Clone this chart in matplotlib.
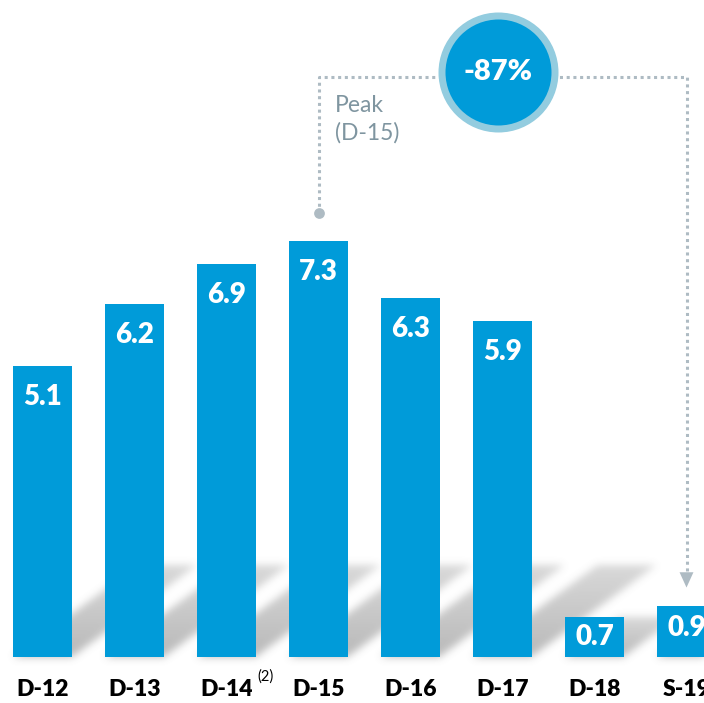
import numpy as np
import matplotlib
matplotlib.use('Agg')
import matplotlib.pyplot as plt

# data
periods = ['D-12', 'D-13', 'D-14', 'D-15', 'D-16', 'D-17', 'D-18', 'S-19']
values = [5.1, 6.2, 6.9, 7.3, 6.3, 5.9, 0.7, 0.9]
change_label = '-87%'
peak_label = 'Peak\n(D-15)'
footnote_idx = 2
footnote = '(2)'

# style
bar_color = '#009BD9'
ring_color = '#93CCDF'
line_color = '#AEBBC3'
peak_text_color = '#7F95A0'
bar_width = 0.64

plt.rcParams['font.family'] = ['Lato', 'DejaVu Sans']

fig = plt.figure(figsize=(7.04, 7.03), dpi=100)
ax = fig.add_axes([0, 0, 1, 1])
# pixel layout: bar spacing 92px, first centre at 42.5px, baseline at 657px, 57px per unit
x0_px, step_px, base_px, unit_px = 42.5, 92.0, 657.0, 57.0
ax.set_xlim(-x0_px / step_px, (704 - x0_px) / step_px)
ax.set_ylim(-(703 - base_px) / unit_px, base_px / unit_px)
ax.axis('off')

x = np.arange(len(values))

# blurred diagonal shadows behind the bars
nx, ny = 704, 703
xs = np.linspace(*ax.get_xlim(), nx)
ys = np.linspace(ax.get_ylim()[1], ax.get_ylim()[0], ny)
XX, YY = np.meshgrid(xs, ys)
k = 1.36 * unit_px / step_px
shade = np.zeros((ny, nx))
for xi, v in zip(x, values):
    hs = min(v, 1.6)
    m = (YY >= 0) & (YY <= hs) & (XX >= xi - bar_width / 2 + k * YY) & (XX <= xi + bar_width / 2 + k * YY)
    fade = 1 - 0.45 * np.clip(YY / hs, 0, 1)
    shade = np.maximum(shade, m * fade)
sig = 4.0
kr = np.arange(-12, 13)
kern = np.exp(-kr ** 2 / (2 * sig ** 2))
kern /= kern.sum()
shade = np.apply_along_axis(lambda r: np.convolve(r, kern, mode='same'), 1, shade)
shade = np.apply_along_axis(lambda c: np.convolve(c, kern, mode='same'), 0, shade)
rgba = np.zeros((ny, nx, 4))
rgba[..., :3] = 0.45
rgba[..., 3] = 0.5 * shade
ax.imshow(rgba, extent=(xs[0], xs[-1], ys[-1], ys[0]), aspect='auto', zorder=1, interpolation='bilinear')

ax.bar(x, values, width=bar_width, color=bar_color, zorder=2)

# value labels
for xi, v in zip(x, values):
    if v > 1.5:
        ty = v - 31 / unit_px
    else:
        ty = v - 20 / unit_px if v < 0.8 else v - 22 / unit_px
    ax.text(xi, ty, f'{v:.1f}', color='white', fontsize=20, fontweight='heavy',
            ha='center', va='center', zorder=3)

# category labels
for xi, lab in zip(x, periods):
    ax.text(xi, -(690 - base_px) / unit_px, lab, fontsize=16.5, fontweight='heavy',
            ha='center', va='center', color='black')
ax.text(footnote_idx + 0.34, -(677 - base_px) / unit_px, footnote, fontsize=10.5,
        ha='left', va='center', color='black')

# connector from peak to latest
peak = int(np.argmax(values))
last = len(values) - 1
top_y = (base_px - 77) / unit_px
dot_y = values[peak] + 0.49
ax.plot([peak, peak, last, last], [dot_y, top_y, top_y, values[last] + 0.55],
        color=line_color, lw=2.2, ls=(0, (1, 1.2)), zorder=3, solid_capstyle='butt')
ax.scatter([peak], [dot_y], s=60, color=line_color, zorder=4, linewidths=0)
ax.annotate('', xy=(last, values[last] + 0.27), xytext=(last, values[last] + 0.6),
            arrowprops=dict(arrowstyle='-|>,head_width=0.5,head_length=1.1',
                            color=line_color, lw=0), zorder=4)
ax.text(peak + (332 - 316) / step_px, (base_px - 119) / unit_px, peak_label,
        fontsize=16.5, color=peak_text_color, ha='left', va='center', linespacing=1.35)

# change bubble
cx, cy = 4.95, (base_px - 72) / unit_px
ax.scatter([cx], [cy], s=(113 * 0.72) ** 2, color=bar_color, edgecolors=ring_color,
           linewidths=7 * 0.72, zorder=5)
ax.text(cx, cy, change_label, color='white', fontsize=21, fontweight='heavy',
        ha='center', va='center', zorder=6)

fig.savefig('out.png', dpi=100)
